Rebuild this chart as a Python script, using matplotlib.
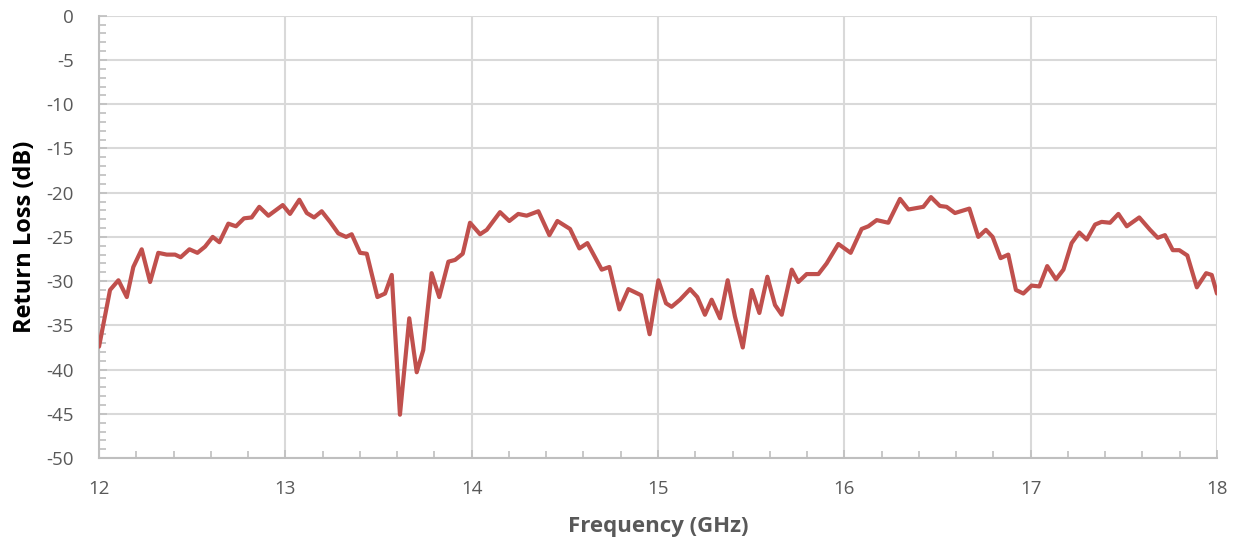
import numpy as np
import matplotlib.pyplot as plt
from matplotlib.ticker import MultipleLocator

# frequency (GHz) and return loss (dB)
freq = [12.0, 12.059, 12.104, 12.149, 12.184, 12.229, 12.274, 12.318, 12.363, 12.408,
        12.438, 12.485, 12.528, 12.569, 12.610, 12.646, 12.694, 12.735, 12.778, 12.819,
        12.860, 12.909, 12.986, 13.025, 13.075, 13.115, 13.154, 13.195, 13.240, 13.284,
        13.326, 13.356, 13.401, 13.437, 13.494, 13.535, 13.571, 13.615, 13.665, 13.705,
        13.740, 13.785, 13.826, 13.875, 13.911, 13.952, 13.991, 14.045, 14.081, 14.152,
        14.202, 14.250, 14.295, 14.358, 14.417, 14.460, 14.528, 14.578, 14.621, 14.698,
        14.739, 14.793, 14.841, 14.910, 14.955, 15.002, 15.043, 15.073, 15.118, 15.172,
        15.211, 15.252, 15.288, 15.333, 15.374, 15.413, 15.455, 15.503, 15.544, 15.587,
        15.628, 15.664, 15.718, 15.753, 15.798, 15.861, 15.905, 15.968, 16.034, 16.093,
        16.129, 16.174, 16.236, 16.299, 16.344, 16.424, 16.465, 16.513, 16.549, 16.594,
        16.671, 16.719, 16.760, 16.796, 16.839, 16.880, 16.921, 16.961, 17.005, 17.047,
        17.089, 17.136, 17.176, 17.220, 17.261, 17.301, 17.346, 17.381, 17.426, 17.471,
        17.516, 17.583, 17.641, 17.682, 17.721, 17.763, 17.798, 17.841, 17.892, 17.942,
        17.972, 18.0]
rl = [-37.4, -31.0, -29.9, -31.8, -28.4, -26.4, -30.1, -26.8, -27.0, -27.0,
      -27.3, -26.4, -26.8, -26.1, -25.0, -25.6, -23.5, -23.8, -22.9, -22.8,
      -21.6, -22.6, -21.4, -22.4, -20.8, -22.3, -22.8, -22.1, -23.3, -24.6,
      -25.0, -24.7, -26.8, -26.9, -31.8, -31.4, -29.3, -45.1, -34.2, -40.3,
      -37.8, -29.1, -31.8, -27.8, -27.6, -26.9, -23.4, -24.7, -24.2, -22.2,
      -23.2, -22.4, -22.6, -22.1, -24.8, -23.2, -24.1, -26.3, -25.7, -28.7,
      -28.4, -33.2, -30.9, -31.6, -36.0, -29.9, -32.5, -32.9, -32.1, -30.9,
      -31.8, -33.8, -32.1, -34.2, -29.9, -34.0, -37.5, -31.0, -33.6, -29.5,
      -32.7, -33.8, -28.7, -30.1, -29.2, -29.2, -28.0, -25.8, -26.8, -24.1,
      -23.8, -23.1, -23.4, -20.7, -21.9, -21.6, -20.5, -21.5, -21.6, -22.3,
      -21.8, -25.0, -24.2, -25.0, -27.4, -27.0, -31.0, -31.4, -30.5, -30.6,
      -28.3, -29.8, -28.7, -25.7, -24.5, -25.3, -23.6, -23.3, -23.4, -22.4,
      -23.8, -22.8, -24.2, -25.1, -24.8, -26.5, -26.5, -27.1, -30.7, -29.1,
      -29.3, -31.4]

plt.rcParams['font.family'] = ['Open Sans', 'DejaVu Sans']
plt.rcParams['axes.unicode_minus'] = False

fig = plt.figure(figsize=(12.38, 5.44), dpi=100)
ax = fig.add_axes([0.080, 0.158, 0.903, 0.813])

ax.plot(freq, rl, color='#C0504D', lw=3, solid_joinstyle='round', solid_capstyle='round', zorder=3)

ax.set_xlim(12, 18)
ax.set_ylim(-50, 0)
ax.xaxis.set_major_locator(MultipleLocator(1))
ax.xaxis.set_minor_locator(MultipleLocator(0.2))
ax.yaxis.set_major_locator(MultipleLocator(5))
ax.yaxis.set_minor_locator(MultipleLocator(1))

ax.grid(True, which='major', color='#D9D9D9', lw=1.5, zorder=0)
ax.set_axisbelow(True)
for s in ['top', 'right']:
    ax.spines[s].set_visible(False)
for s in ['left', 'bottom']:
    ax.spines[s].set_color('#BFBFBF')
    ax.spines[s].set_linewidth(1.5)

ax.tick_params(which='major', direction='in', length=6, width=1.2, color='#BFBFBF',
               labelsize=13.5, labelcolor='#595959')
ax.tick_params(which='minor', direction='in', length=5, width=1.2, color='#BFBFBF')
ax.tick_params(axis='y', which='major', pad=18)
ax.tick_params(axis='x', which='major', pad=16)

ax.set_xlabel('Frequency (GHz)', fontsize=16, fontweight='bold', color='#595959', labelpad=13)
ax.set_ylabel('Return Loss (dB)', fontsize=17, fontweight='bold', color='black', labelpad=7)

fig.savefig('out.png', dpi=100)
